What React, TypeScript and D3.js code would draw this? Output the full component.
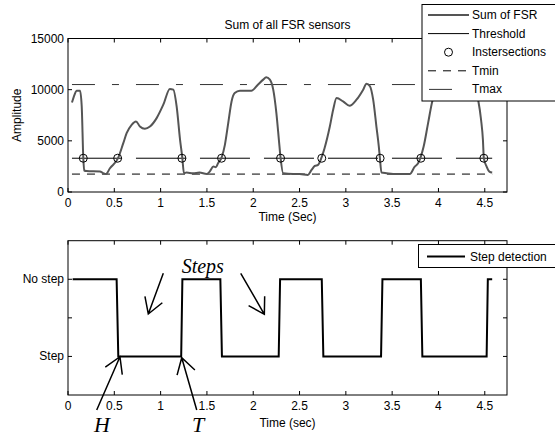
import React from 'react';
import * as d3 from 'd3';

// sum of all FSR sensors (time in s, amplitude)
const fsrTime = [
  0.043, 0.07, 0.094, 0.13, 0.148, 0.165, 0.175, 0.2, 0.345, 0.38, 0.41, 0.453, 0.543, 0.597,
  0.633, 0.687, 0.734, 0.777, 0.83, 0.885, 0.957, 1.029, 1.1, 1.137, 1.173, 1.21, 1.234, 1.252,
  1.28, 1.35, 1.42, 1.497, 1.53, 1.57, 1.597, 1.62, 1.658, 1.694, 1.73, 1.766, 1.8, 1.856, 1.98,
  2.05, 2.108, 2.14, 2.18, 2.216, 2.25, 2.277, 2.295, 2.323, 2.43, 2.5, 2.59, 2.63, 2.665, 2.7,
  2.737, 2.77, 2.827, 2.863, 2.9, 2.97, 3.04, 3.115, 3.187, 3.223, 3.26, 3.295, 3.33, 3.356,
  3.367, 3.385, 3.44, 3.51, 3.69, 3.744, 3.78, 3.806, 3.84, 3.888, 3.935, 4.0, 4.15, 4.3, 4.38,
  4.43, 4.46, 4.48, 4.49, 4.52, 4.55, 4.58,
];
const fsrValue = [
  8750, 9500, 9900, 9900, 8400, 3360, 2100, 2050, 2000, 1850, 1760, 2320, 3360, 4770,
  5750, 6570, 6900, 6400, 6180, 6400, 7220, 8530, 10070, 10000, 8360, 5100, 3360, 1830,
  1900, 1830, 1900, 1760, 1990, 2480, 2420, 2810, 3360, 4610, 6730, 8850, 9670, 9900, 9900,
  10490, 10980, 11210, 10980, 10000, 7710, 5100, 3360, 1830, 1760, 1760, 1670, 2160, 2550, 2650,
  3360, 4280, 6400, 8040, 9180, 8850, 8430, 9020, 10000, 10590, 10330, 9020, 6400, 4440,
  3360, 1900, 1830, 1760, 1760, 2480, 2810, 3360, 4440, 6730, 8920, 10000, 10300, 10600, 10200,
  8920, 7060, 5100, 3300, 2480, 1990, 1900,
];

const threshold = 3300;
const tMin = 1750;
const tMax = 10500;
const lineStart = 0.043;
const lineEnd = 4.58;
const crossTimes = [0.165, 0.536, 1.23, 1.658, 2.295, 2.74, 3.37, 3.81, 4.49];

// step detection: 1 = No step, 0 = Step
const stepTime = [0.05, 0.525, 0.543, 1.222, 1.235, 1.645, 1.662, 2.275, 2.29, 2.74, 2.757, 3.38, 3.395, 3.81, 3.826, 4.52, 4.533, 4.58];
const stepState = [1, 1, 0, 0, 1, 1, 0, 0, 1, 1, 0, 0, 1, 1, 0, 0, 1, 1];

const xTicks = [0, 0.5, 1, 1.5, 2, 2.5, 3, 3.5, 4, 4.5];
const topYTicks = [0, 5000, 10000, 15000];
const bottomYTicks = [0, 0.5, 1];
const bottomYLabels: Record<number, string> = { 0: 'Step', 1: 'No step' };

const topLegend = ['Sum of FSR', 'Threshold', 'Instersections', 'Tmin', 'Tmax'];

// annotation arrows in bottom-plot data coords
const arrows = [
  { from: [1.029, 1.077], to: [0.867, 0.55] },
  { from: [1.865, 1.077], to: [2.12, 0.546] },
  { from: [0.31, -0.694], to: [0.561, -0.004] },
  { from: [1.39, -0.694], to: [1.228, -0.017] },
];

const FONT = '"Liberation Sans", Arial, sans-serif';
const SERIF = '"Liberation Serif", "Times New Roman", serif';
const GRAY = '#555555';
const TMAX_DASH = '23,17,7,17';

function fmt(v: number) {
  return String(v);
}

export default function App() {
  const width = 555;
  const height = 436;
  const left = 68;
  const right = 507;

  const x = d3.scaleLinear().domain([0, 4.74]).range([left, right]);
  const yTop = d3.scaleLinear().domain([0, 15000]).range([192, 38.5]);
  const yBot = d3.scaleLinear().domain([-0.5, 1.5]).range([395, 240.7]);

  const fsrPoints: [number, number][] = fsrTime.map((t, i) => [t, fsrValue[i]]);
  const fsrPath = d3
    .line<[number, number]>()
    .x(d => x(d[0]))
    .y(d => yTop(d[1]))
    .curve(d3.curveMonotoneX)(fsrPoints);

  const stepPoints: [number, number][] = stepTime.map((t, i) => [t, stepState[i]]);
  const stepPath = d3
    .line<[number, number]>()
    .x(d => x(d[0]))
    .y(d => yBot(d[1]))(stepPoints);

  const tick = 4;

  const axesBox = (y: d3.ScaleLinear<number, number>, yTicks: number[]) => {
    const [y0, y1] = y.range();
    return (
      <g>
        <rect x={left} y={y1} width={right - left} height={y0 - y1} fill="none" stroke="#000" strokeWidth={1} />
        {xTicks.map(t => (
          <g key={'x' + t}>
            <line x1={x(t)} x2={x(t)} y1={y0} y2={y0 - tick} stroke="#000" />
            <line x1={x(t)} x2={x(t)} y1={y1} y2={y1 + tick} stroke="#000" />
          </g>
        ))}
        {yTicks.map(v => (
          <g key={'y' + v}>
            <line x1={left} x2={left + tick} y1={y(v)} y2={y(v)} stroke="#000" />
            <line x1={right} x2={right - tick} y1={y(v)} y2={y(v)} stroke="#000" />
          </g>
        ))}
        {xTicks.map(t => (
          <text key={'xl' + t} x={x(t)} y={y0 + 15} textAnchor="middle" fontSize={12} fontFamily={FONT}>
            {fmt(t)}
          </text>
        ))}
      </g>
    );
  };

  const arrowHead = (from: number[], to: number[]) => {
    const x0 = x(from[0]), y0 = yBot(from[1]);
    const x1 = x(to[0]), y1 = yBot(to[1]);
    const ang = Math.atan2(y0 - y1, x0 - x1);
    const len = 18;
    const spread = (31 * Math.PI) / 180;
    const a = [x1 + len * Math.cos(ang - spread), y1 + len * Math.sin(ang - spread)];
    const b = [x1 + len * Math.cos(ang + spread), y1 + len * Math.sin(ang + spread)];
    return `M${x0},${y0}L${x1},${y1}M${a[0]},${a[1]}L${x1},${y1}L${b[0]},${b[1]}`;
  };

  const legX0 = 428;
  const legX1 = 469;
  const legRowY = (i: number) => 15 + i * 18.6;

  return (
    <svg width={width} height={height} style={{ position: 'absolute', left: 0, top: 0, background: '#fff' }}>
      {/* top plot */}
      <text x={(left + right) / 2} y={29} textAnchor="middle" fontSize={12} fontFamily={FONT}>
        Sum of all FSR sensors
      </text>
      <line x1={x(lineStart)} x2={x(lineEnd)} y1={yTop(tMax)} y2={yTop(tMax)} stroke="#333" strokeDasharray={TMAX_DASH} />
      <line x1={x(lineStart)} x2={x(lineEnd)} y1={yTop(tMin)} y2={yTop(tMin)} stroke="#000" strokeDasharray="8,7" />
      <line x1={x(lineStart)} x2={x(lineEnd)} y1={yTop(threshold)} y2={yTop(threshold)} stroke="#000" strokeDasharray="50,14" />
      <path d={fsrPath ?? ''} fill="none" stroke={GRAY} strokeWidth={2} />
      {crossTimes.map(t => (
        <circle key={t} cx={x(t)} cy={yTop(threshold)} r={4} fill="none" stroke="#000" strokeWidth={1} />
      ))}
      {axesBox(yTop, topYTicks)}
      {topYTicks.map(v => (
        <text key={v} x={64} y={yTop(v) + 4} textAnchor="end" fontSize={12} fontFamily={FONT}>
          {v}
        </text>
      ))}
      <text x={(left + right) / 2} y={221} textAnchor="middle" fontSize={12} fontFamily={FONT}>
        Time (Sec)
      </text>
      <text transform={`translate(21,${(192 + 38.5) / 2}) rotate(-90)`} textAnchor="middle" fontSize={12} fontFamily={FONT}>
        Amplitude
      </text>

      {/* top legend */}
      <rect x={422} y={4.5} width={140} height={96.5} fill="#fff" stroke="#000" />
      <line x1={legX0} x2={legX1} y1={legRowY(0)} y2={legRowY(0)} stroke={GRAY} strokeWidth={2} />
      <line x1={legX0} x2={legX1} y1={legRowY(1)} y2={legRowY(1)} stroke="#000" />
      <circle cx={(legX0 + legX1) / 2} cy={legRowY(2)} r={4} fill="none" stroke="#000" />
      <line x1={legX0} x2={legX1} y1={legRowY(3)} y2={legRowY(3)} stroke="#000" strokeDasharray="8,7" />
      <line x1={legX0 + 1} x2={legX0 + 24} y1={legRowY(4)} y2={legRowY(4)} stroke="#333" strokeDasharray={TMAX_DASH} />
      {topLegend.map((name, i) => (
        <text key={name} x={472} y={legRowY(i) + 4} fontSize={12} fontFamily={FONT}>
          {name}
        </text>
      ))}

      {/* bottom plot */}
      <path d={stepPath ?? ''} fill="none" stroke="#000" strokeWidth={2} />
      {axesBox(yBot, bottomYTicks)}
      {bottomYTicks.map(v => (
        <text key={v} x={64} y={yBot(v) + 4} textAnchor="end" fontSize={12} fontFamily={FONT}>
          {bottomYLabels[v] ?? ''}
        </text>
      ))}
      <text x={(left + right) / 2} y={427} textAnchor="middle" fontSize={12} fontFamily={FONT}>
        Time (sec)
      </text>

      {/* bottom legend */}
      <rect x={418.5} y={244.5} width={140} height={23} fill="#fff" stroke="#000" />
      <line x1={427} x2={465} y1={256.5} y2={256.5} stroke="#000" strokeWidth={2} />
      <text x={470} y={261} fontSize={12} fontFamily={FONT}>
        Step detection
      </text>

      {/* annotations */}
      {arrows.map((a, i) => (
        <path key={i} d={arrowHead(a.from, a.to)} fill="none" stroke="#000" strokeWidth={1.5} />
      ))}
      <text x={x(1.227)} y={273} fontSize={20} fontStyle="italic" fontFamily={SERIF}>
        Steps
      </text>
      <text x={x(0.28)} y={432} fontSize={22} fontStyle="italic" fontFamily={SERIF}>
        H
      </text>
      <text x={x(1.34)} y={432} fontSize={22} fontStyle="italic" fontFamily={SERIF}>
        T
      </text>
    </svg>
  );
}
